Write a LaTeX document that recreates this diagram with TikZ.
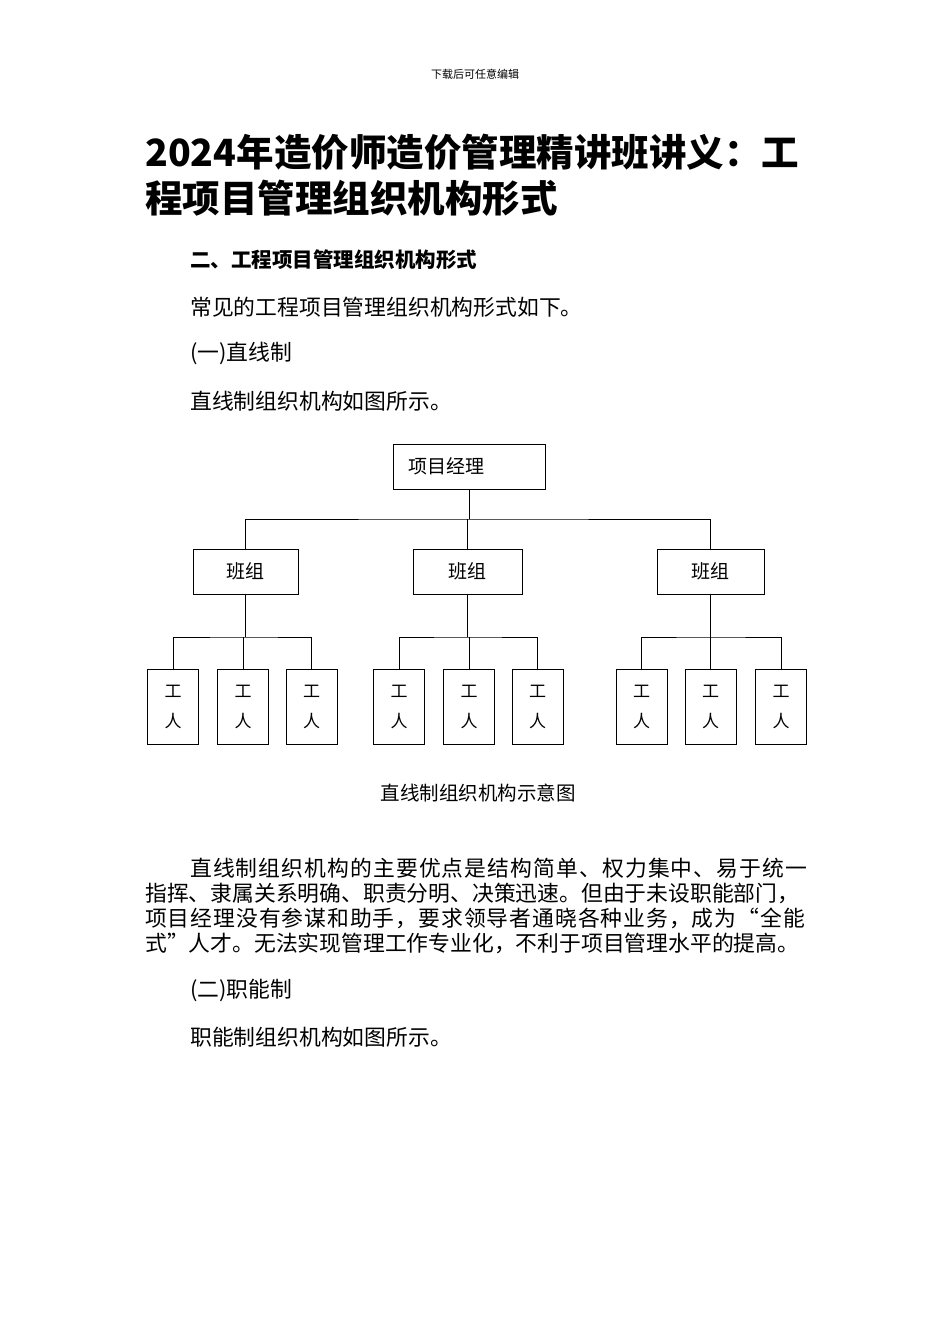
\documentclass[tikz,border=0pt]{standalone}
\usepackage{fontspec}
\setmainfont{Noto Sans CJK SC}
\begin{document}
\begin{tikzpicture}[x=1pt,y=-1pt,
  box/.style={draw,line width=0.9pt,inner sep=0pt},
  ln/.style={line width=0.9pt},
  body/.style={anchor=west,inner sep=0pt,font=\fontsize{21.8}{24}\selectfont}]
\useasboundingbox[fill=white] (0,0) rectangle (950,1344);
\node[inner sep=0pt,font=\fontsize{11}{13}\selectfont] (hd) at (475,74) {下载后可任意编辑};
\node[body,font=\fontsize{37.5}{40}\selectfont\bfseries] (t1) at (145,152) {2024年造价师造价管理精讲班讲义：工};
\node[body,font=\fontsize{37.5}{40}\selectfont\bfseries] (t2) at (145,198) {程项目管理组织机构形式};
\node[body,font=\fontsize{20.5}{23}\selectfont\bfseries] (s1) at (190,260) {二、工程项目管理组织机构形式};
\node[body] (p1) at (190,307) {常见的工程项目管理组织机构形式如下。};
\node[body] (p2) at (190,353) {(一)直线制};
\node[body] (p3) at (190,401) {直线制组织机构如图所示。};
% chart
\node[box,minimum width=152pt,minimum height=45pt] (pm) at (469,466.5) {};
\node[anchor=west,inner sep=0pt,font=\fontsize{19}{20}\selectfont] (pmt) at (408,466.5) {项目经理};
\foreach \n/\x/\w in {a/245.5/105,b/467.5/109,c/710.5/107}{
  \node[box,minimum width=\w pt,minimum height=45pt,font=\fontsize{19}{20}\selectfont] (\n) at (\x,571.5) {班组};
}
\coordinate (hb) at (469,519);
\draw[ln] (pm.south) -- (hb);
\draw[ln] (a.north) |- (hb) -| (c.north);
\draw[ln] (b.north) -- (b.north|-hb);
\foreach \g/\xa/\xb/\xc in {a/173/243/311.5,b/399/469/537.5,c/641.5/710.5/781}{
  \foreach \i/\x in {1/\xa,2/\xb,3/\xc}{
    \node[box,minimum width=51pt,minimum height=75pt,align=center,font=\fontsize{17}{30}\selectfont] (\g\i) at (\x,706.5) {工\\人};
  }
  \coordinate (\g h) at (\g.south|-0,637);
  \draw[ln] (\g.south) -- (\g h);
  \draw[ln] (\g1.north) |- (\g h) -| (\g3.north);
  \draw[ln] (\g2.north) -- (\g2.north|-\g h);
}
\node[inner sep=0pt,font=\fontsize{19.5}{20}\selectfont] (cap) at (478,793) {直线制组织机构示意图};
\node[body] (q1) at (190,868) {\addfontfeature{LetterSpace=5}直线制组织机构的主要优点是结构简单、权力集中、易于统一};
\node[body] (q2) at (145,893) {指挥、隶属关系明确、职责分明、决策迅速。但由于未设职能部门，};
\node[body] (q3) at (145,918) {\addfontfeature{LetterSpace=4.5}项目经理没有参谋和助手，要求领导者通晓各种业务，成为“全能};
\node[body] (q4) at (145,943) {式”人才。无法实现管理工作专业化，不利于项目管理水平的提高。};
\node[body] (r1) at (190,990) {(二)职能制};
\node[body] (r2) at (190,1037) {职能制组织机构如图所示。};
\end{tikzpicture}
\end{document}
